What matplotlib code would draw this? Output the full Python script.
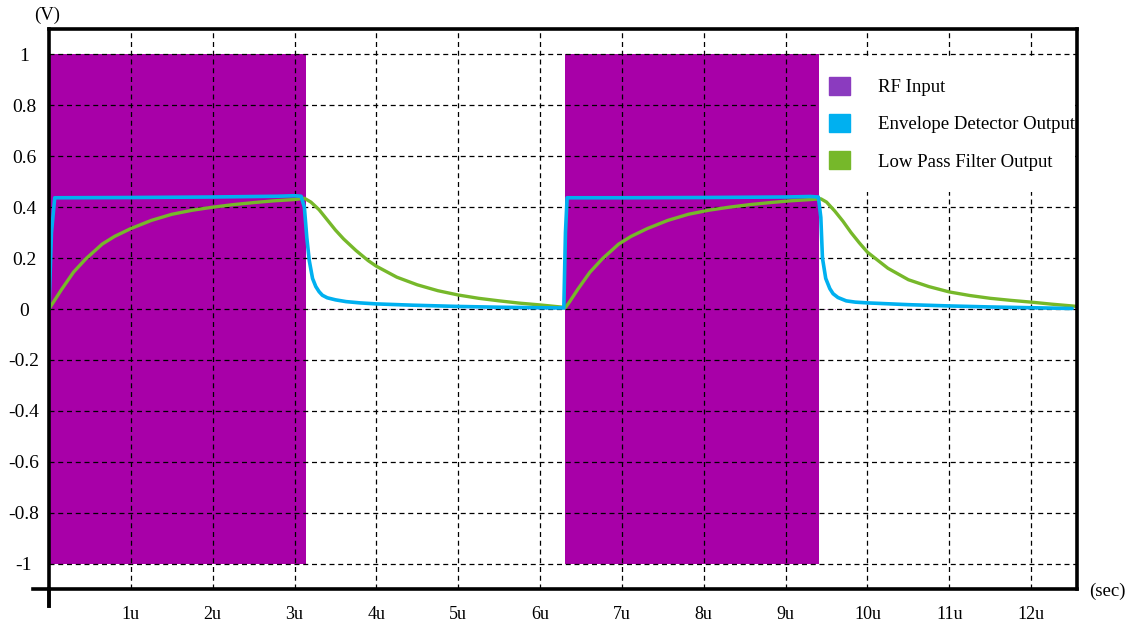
import matplotlib.pyplot as plt
import matplotlib.patches as mpatches
import numpy as np

plt.rcParams['font.family'] = ['Liberation Serif', 'DejaVu Serif']
plt.rcParams['font.size'] = 13

# time in microseconds
burst_start = [0.0, 6.31]
burst_end = [3.14, 9.41]
rf_amp = [1.0, 1.0]

env_t = [0.0, 0.03, 0.07, 1.0, 2.0, 2.8, 3.0, 3.08, 3.12, 3.15, 3.18, 3.22, 3.26,
         3.3, 3.34, 3.4, 3.5, 3.63, 3.8, 4.0, 4.44, 5.0, 5.5, 6.0, 6.29,
         6.31, 6.33, 7.0, 8.0, 9.0, 9.3, 9.4, 9.43, 9.45, 9.49, 9.54, 9.58, 9.64,
         9.74, 9.85, 10.0, 10.5, 11.0, 11.5, 12.0, 12.5]
env_v = [0.0, 0.30, 0.437, 0.438, 0.44, 0.443, 0.445, 0.443, 0.40, 0.28, 0.19, 0.12, 0.088,
         0.068, 0.054, 0.044, 0.036, 0.029, 0.024, 0.02, 0.015, 0.01, 0.007, 0.005, 0.004,
         0.30, 0.437, 0.437, 0.438, 0.44, 0.442, 0.44, 0.36, 0.2, 0.12, 0.08, 0.06, 0.045,
         0.032, 0.027, 0.024, 0.017, 0.012, 0.008, 0.005, 0.002]

lpf_t = [0.0, 0.05, 0.15, 0.3, 0.45, 0.65, 0.8, 1.0, 1.25, 1.5, 1.75, 2.0, 2.25,
         2.5, 2.75, 3.0, 3.12,
         3.2, 3.3, 3.4, 3.5, 3.6, 3.75, 3.9, 4.0, 4.25, 4.5, 4.75, 5.0, 5.25,
         5.5, 5.75, 6.0, 6.31,
         6.36, 6.46, 6.61, 6.76, 6.96, 7.11, 7.31, 7.56, 7.81, 8.06, 8.31, 8.56,
         8.81, 9.06, 9.31, 9.43,
         9.5, 9.6, 9.7, 9.8, 9.9, 10.0, 10.25, 10.5, 10.75, 11.0, 11.25, 11.5,
         11.75, 12.0, 12.25, 12.5, 12.56]
lpf_v = [0.0, 0.025, 0.075, 0.145, 0.197, 0.255, 0.285, 0.316, 0.348, 0.372, 0.388, 0.40, 0.41,
         0.418, 0.425, 0.43, 0.435,
         0.42, 0.39, 0.35, 0.31, 0.275, 0.23, 0.19, 0.168, 0.125, 0.095, 0.072, 0.055, 0.042,
         0.032, 0.023, 0.016, 0.006,
         0.028, 0.077, 0.145, 0.197, 0.255, 0.285, 0.316, 0.348, 0.372, 0.388, 0.40, 0.41,
         0.418, 0.425, 0.43, 0.433,
         0.42, 0.385, 0.345, 0.30, 0.26, 0.223, 0.16, 0.115, 0.088, 0.067, 0.053, 0.042,
         0.034, 0.027, 0.019, 0.012, 0.01]

xticks = list(range(1, 13))
xticklabels = [f'{i}u' for i in xticks]
yticks = [-1, -0.8, -0.6, -0.4, -0.2, 0, 0.2, 0.4, 0.6, 0.8, 1]
yticklabels = ['-1', '-0.8', '-0.6', '-0.4', '-0.2', '0', '0.2', '0.4', '0.6', '0.8', '1']

rf_color = '#A800A8'
env_color = '#00B0F0'
lpf_color = '#76B82A'

fig = plt.figure(figsize=(11.32, 6.24), dpi=100)
ax = fig.add_axes([49 / 1132, 35 / 624, 1028 / 1132, 560 / 624])

for s, e, a in zip(burst_start, burst_end, rf_amp):
    ax.fill_between([s, e], [-a, -a], [a, a], color=rf_color, lw=0, zorder=1)
# RF is zero between bursts
ax.plot([burst_end[0], burst_start[1]], [0, 0], color='#D070D0', lw=0.7, ls=':', zorder=1)
ax.plot([burst_end[1], 12.56], [0, 0], color='#D070D0', lw=0.7, ls=':', zorder=1)

ax.plot(lpf_t, lpf_v, color=lpf_color, lw=2.4, zorder=4, solid_joinstyle='round',
        solid_capstyle='round')
ax.plot(env_t, env_v, color=env_color, lw=2.6, zorder=5, solid_joinstyle='round',
        solid_capstyle='round')

ax.set_xlim(0, 12.56)
ax.set_ylim(-1.1, 1.1)
ax.set_xticks(xticks)
ax.set_xticklabels(xticklabels)
ax.set_yticks(yticks)
ax.set_yticklabels(yticklabels, fontsize=14)
ax.tick_params(axis='both', length=0)
ax.tick_params(axis='y', pad=18)
ax.tick_params(axis='x', pad=12)
for lab in ax.get_yticklabels():
    lab.set_ha('center')

ax.set_axisbelow(False)
ax.grid(True, color='black', lw=0.9, ls=(0, (4, 3)), zorder=3)

for sp in ax.spines.values():
    sp.set_linewidth(2.6)
    sp.set_zorder(8)

# axis lines extend past the frame
ax.plot([-0.016, 0], [0, 0], transform=ax.transAxes, color='black', lw=2.6, clip_on=False)
ax.plot([0, 0], [-0.03, 0], transform=ax.transAxes, color='black', lw=2.8, clip_on=False)

fig.text(47 / 1132, 1 - 15 / 624, '(V)', ha='center', va='center', fontsize=13.5)
fig.text(1107 / 1132, 1 - 591 / 624, '(sec)', ha='center', va='center', fontsize=13.5)

# white box behind the legend hides the grid there
ax.add_patch(mpatches.Rectangle((burst_end[1] / 12.56, 0.709), 0.998 - burst_end[1] / 12.56,
                                0.241, transform=ax.transAxes,
                                facecolor='white', edgecolor='none', zorder=3.5))

handles = [mpatches.Patch(color='#8B3BBF', label='RF Input'),
           mpatches.Patch(color=env_color, label='Envelope Detector Output'),
           mpatches.Patch(color=lpf_color, label='Low Pass Filter Output')]
leg = ax.legend(handles=handles, loc='upper left', bbox_to_anchor=(0.759, 0.915),
                frameon=False, borderpad=0, borderaxespad=0, handlelength=1.12,
                handleheight=1.12, handletextpad=1.5, labelspacing=0.95, fontsize=13.5)
leg.set_zorder(7)

fig.savefig('out.png', dpi=100)
